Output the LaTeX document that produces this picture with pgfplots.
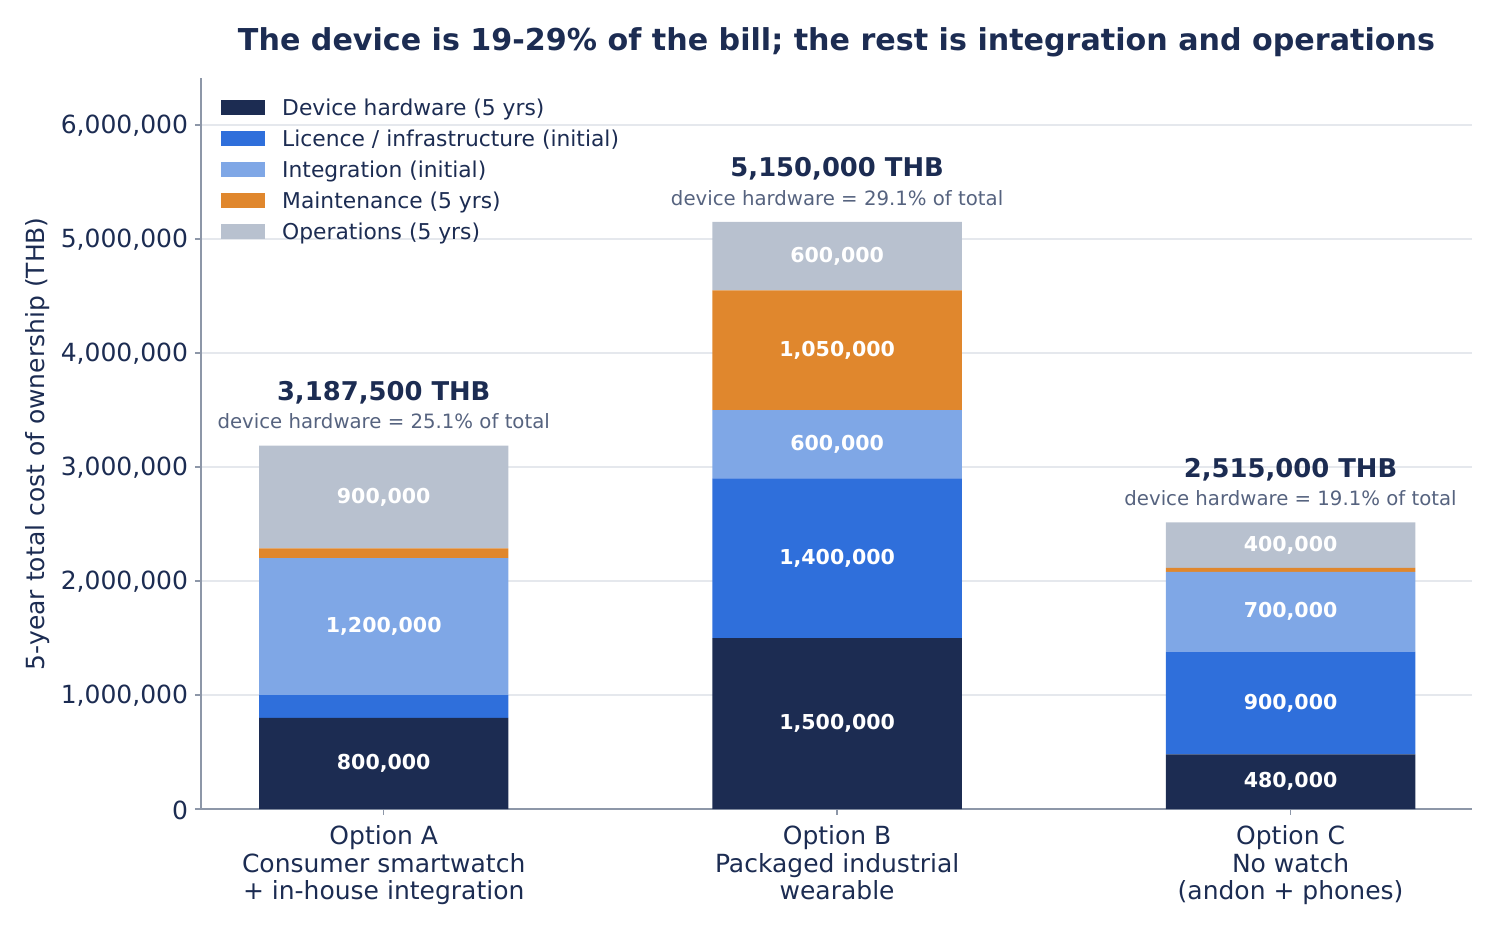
\documentclass[border=0pt]{standalone}
\usepackage{pgfplots}
\pgfplotsset{compat=1.18}
\usepackage{fontspec}
\setmainfont{DejaVu Sans}
\definecolor{navy}{HTML}{1C2C52}
\definecolor{licc}{HTML}{2F6FDB}
\definecolor{intc}{HTML}{7FA7E6}
\definecolor{mntc}{HTML}{E0872D}
\definecolor{opsc}{HTML}{B8C1CF}
\definecolor{subc}{HTML}{56637F}
\definecolor{spine}{HTML}{8D97A8}
\definecolor{gridc}{HTML}{E5E8ED}
\pgfplotstableread{
x y lab
0 400000 800,000
0 1600000 1,200,000
0 2737500 900,000
1 750000 1,500,000
1 2200000 1,400,000
1 3200000 600,000
1 4025000 1,050,000
1 4850000 600,000
2 240000 480,000
2 930000 900,000
2 1730000 700,000
2 2315000 400,000
}\inbar
\pgfplotstableread{
x y lab
0 3187500 {3,187,500 THB}
1 5150000 {5,150,000 THB}
2 2515000 {2,515,000 THB}
}\totals
\pgfplotstableread{
x y lab
0 3187500 {device hardware = 25.1\% of total}
1 5150000 {device hardware = 29.1\% of total}
2 2515000 {device hardware = 19.1\% of total}
}\subs
\begin{document}
\begin{tikzpicture}
\useasboundingbox (0,0) rectangle (1080pt,669.6pt);
\begin{axis}[
  at={(144.7pt,87.1pt)}, anchor=south west,
  scale only axis, width=915.1pt, height=526.1pt,
  ybar stacked, bar width=0.55,
  xmin=-0.403, xmax=2.4, ymin=0, ymax=6410000,
  axis lines=left,
  axis line style={-, color=spine, line width=1pt},
  tick style={color=spine, line width=1pt},
  major tick length=4.3pt, tick align=outside,
  xtick={0,1,2},
  xticklabels={{Option A\\Consumer smartwatch\\+ in-house integration},{Option B\\Packaged industrial\\wearable},{Option C\\No watch\\(andon + phones)}},
  xticklabel style={align=center, font=\fontsize{18}{19.8}\selectfont, text=navy, yshift=-4.3pt},
  ytick={0,1000000,2000000,3000000,4000000,5000000,6000000},
  scaled y ticks=false,
  /pgf/number format/assume math mode=true,
  yticklabel style={/pgf/number format/fixed, /pgf/number format/1000 sep={,}, font=\fontsize{18}{21}\selectfont, text=navy, yshift=-0.7pt, xshift=-1.5pt},
  ymajorgrids, major grid style={color=gridc, line width=1pt},
  ylabel={5-year total cost of ownership (THB)},
  every axis y label/.style={at={(axis description cs:0,0.5)}, anchor=center, xshift=-117.3pt, rotate=90, font=\fontsize{18}{21}\selectfont, text=navy},
  title={The device is 19-29\% of the bill; the rest is integration and operations},
  every axis title/.style={at={(axis description cs:0.5,1)}, anchor=base, yshift=20.3pt, font=\fontsize{21.7}{26}\selectfont\bfseries, text=navy},
  legend image code/.code={\fill[#1] (0pt,-3.7pt) rectangle (31.7pt,7.1pt);},
  legend style={draw=none, fill=none, at={(0,1)}, anchor=north west, xshift=14.4pt, yshift=-14.8pt, inner sep=0pt, row sep=7.3pt, column sep=12.2pt,
    nodes={inner sep=0pt, text height=11.5pt, text depth=3.5pt, font=\fontsize{15.7}{18.8}\selectfont, text=navy}},
  legend cell align=left,
]
\addplot[fill=navy, draw=none] coordinates {(0,800000) (1,1500000) (2,480000)};
\addlegendentry{Device hardware (5 yrs)}
\addplot[fill=licc, draw=none] coordinates {(0,200000) (1,1400000) (2,900000)};
\addlegendentry{Licence / infrastructure (initial)}
\addplot[fill=intc, draw=none] coordinates {(0,1200000) (1,600000) (2,700000)};
\addlegendentry{Integration (initial)}
\addplot[fill=mntc, draw=none] coordinates {(0,87500) (1,1050000) (2,35000)};
\addlegendentry{Maintenance (5 yrs)}
\addplot[fill=opsc, draw=none] coordinates {(0,900000) (1,600000) (2,400000)};
\addlegendentry{Operations (5 yrs)}
\end{axis}
\begin{axis}[
  at={(144.7pt,87.1pt)}, anchor=south west,
  scale only axis, width=915.1pt, height=526.1pt,
  xmin=-0.403, xmax=2.4, ymin=0, ymax=6410000,
  hide axis, clip=false,
]
\addplot[draw=none, mark=none, nodes near coords, point meta=explicit symbolic, nodes near coords align=center,
  every node near coord/.append style={font=\fontsize{14.8}{17}\selectfont\bfseries, text=white, inner sep=0pt}]
  table[x=x, y=y, meta=lab] {\inbar};
\addplot[draw=none, mark=none, nodes near coords, point meta=explicit symbolic, nodes near coords align=center,
  every node near coord/.append style={font=\fontsize{18.6}{21}\selectfont\bfseries, text=navy, inner sep=0pt, yshift=38pt}]
  table[x=x, y=y, meta=lab] {\totals};
\addplot[draw=none, mark=none, nodes near coords, point meta=explicit symbolic, nodes near coords align=center,
  every node near coord/.append style={font=\fontsize{14.2}{17}\selectfont, text=subc, inner sep=0pt, yshift=17.3pt}]
  table[x=x, y=y, meta=lab] {\subs};
\end{axis}
\end{tikzpicture}
\end{document}
